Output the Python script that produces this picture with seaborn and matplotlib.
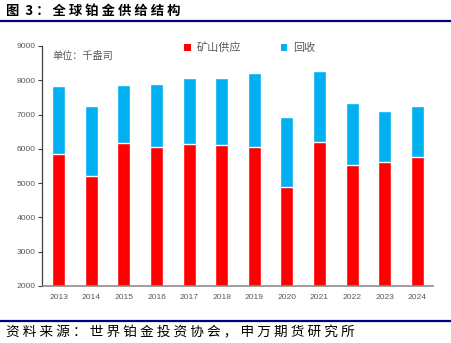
import matplotlib
matplotlib.use("Agg")
import matplotlib.pyplot as plt
from matplotlib.patches import Patch
from matplotlib.lines import Line2D
import seaborn as sns
import pandas as pd
import numpy as np

years = ["2013", "2014", "2015", "2016", "2017", "2018", "2019", "2020", "2021", "2022", "2023", "2024"]
mining = [5840, 5220, 6170, 6050, 6150, 6120, 6050, 4890, 6190, 5540, 5610, 5760]
recycling = [1990, 2030, 1700, 1840, 1920, 1940, 2150, 2030, 2070, 1790, 1480, 1490]
yticks = [2000, 3000, 4000, 5000, 6000, 7000, 8000, 9000]

title = "图  3 ： 全 球 铂 金 供 给 结 构"
source = "资 料 来 源 ： 世 界 铂 金 投 资 协 会 ， 申 万 期 货 研 究 所"
unit = "单位：千盎司"
labels = ["矿山供应", "回收"]

RED = "#FF0000"
BLUE = "#00B0F0"
GRAY = "#595959"

sns.set_theme(style="white")
plt.rcParams["font.family"] = ["Noto Sans CJK SC", "DejaVu Sans"]

df = pd.DataFrame({"year": years, "mining": mining, "recycling": recycling})
df["total"] = df["mining"] + df["recycling"]

fig = plt.figure(figsize=(4.52, 3.43), dpi=100)
ax = fig.add_axes([42.5 / 452, 1 - 286 / 343, 391 / 452, 240 / 343])

sns.barplot(data=df, x="year", y="total", color=BLUE, width=0.4, ax=ax,
            saturation=1, order=years)
sns.barplot(data=df, x="year", y="mining", color=RED, width=0.4, ax=ax,
            saturation=1, order=years)

ax.set_ylim(2000, 9000)
ax.set_xlim(-0.5, len(years) - 0.5)
ax.set_yticks(yticks)
ax.set_xlabel("")
ax.set_ylabel("")

tickfont = {"family": ["Liberation Sans", "DejaVu Sans"], "size": 6.1}
ax.set_yticklabels([str(v) for v in yticks], fontdict=tickfont, color=GRAY)
ax.set_xticks(range(len(years)))
ax.set_xticklabels(years, fontdict=tickfont, color=GRAY)
ax.tick_params(axis="x", which="major", length=0, pad=6)
ax.set_xticks(np.arange(-0.5, len(years)), minor=True)
ax.tick_params(axis="x", which="minor", length=3.5, direction="out", color="#404040", width=0.8)
ax.tick_params(axis="y", length=3, direction="out", color="#404040", width=0.8, pad=2, left=True)

for s in ["top", "right"]:
    ax.spines[s].set_visible(False)
ax.spines["left"].set_color("#404040")
ax.spines["left"].set_linewidth(0.9)
ax.spines["bottom"].set_color("#8c8c8c")
ax.spines["bottom"].set_linewidth(1.2)

handles = [Patch(facecolor=RED, edgecolor="none"), Patch(facecolor=BLUE, edgecolor="none")]
ax.legend(handles, labels, loc="center left", bbox_to_anchor=(184 / 452, 1 - 48 / 343),
          bbox_transform=fig.transFigure, ncol=2, frameon=False, fontsize=8,
          handlelength=0.6, handleheight=0.6, handletextpad=0.5, columnspacing=3.6,
          labelcolor=GRAY, borderaxespad=0, borderpad=0)

ax.text(52 / 452, 1 - 56 / 343, unit, transform=fig.transFigure, fontsize=7.3,
        color=GRAY, va="center", ha="left")

fig.text(6 / 452, 1 - 11 / 343, title, fontsize=9.6, fontweight="bold",
         color="#000000", va="center", ha="left")
fig.add_artist(Line2D([0, 1], [1 - 21 / 343, 1 - 21 / 343], color="#00007F",
                      linewidth=1.6, transform=fig.transFigure))
fig.add_artist(Line2D([0, 1], [1 - 320.5 / 343, 1 - 320.5 / 343], color="#00007F",
                      linewidth=1.6, transform=fig.transFigure))
fig.text(6 / 452, 1 - 332.5 / 343, source, fontsize=9.85, color="#000000",
         va="center", ha="left")

fig.savefig("out.png", dpi=100)
